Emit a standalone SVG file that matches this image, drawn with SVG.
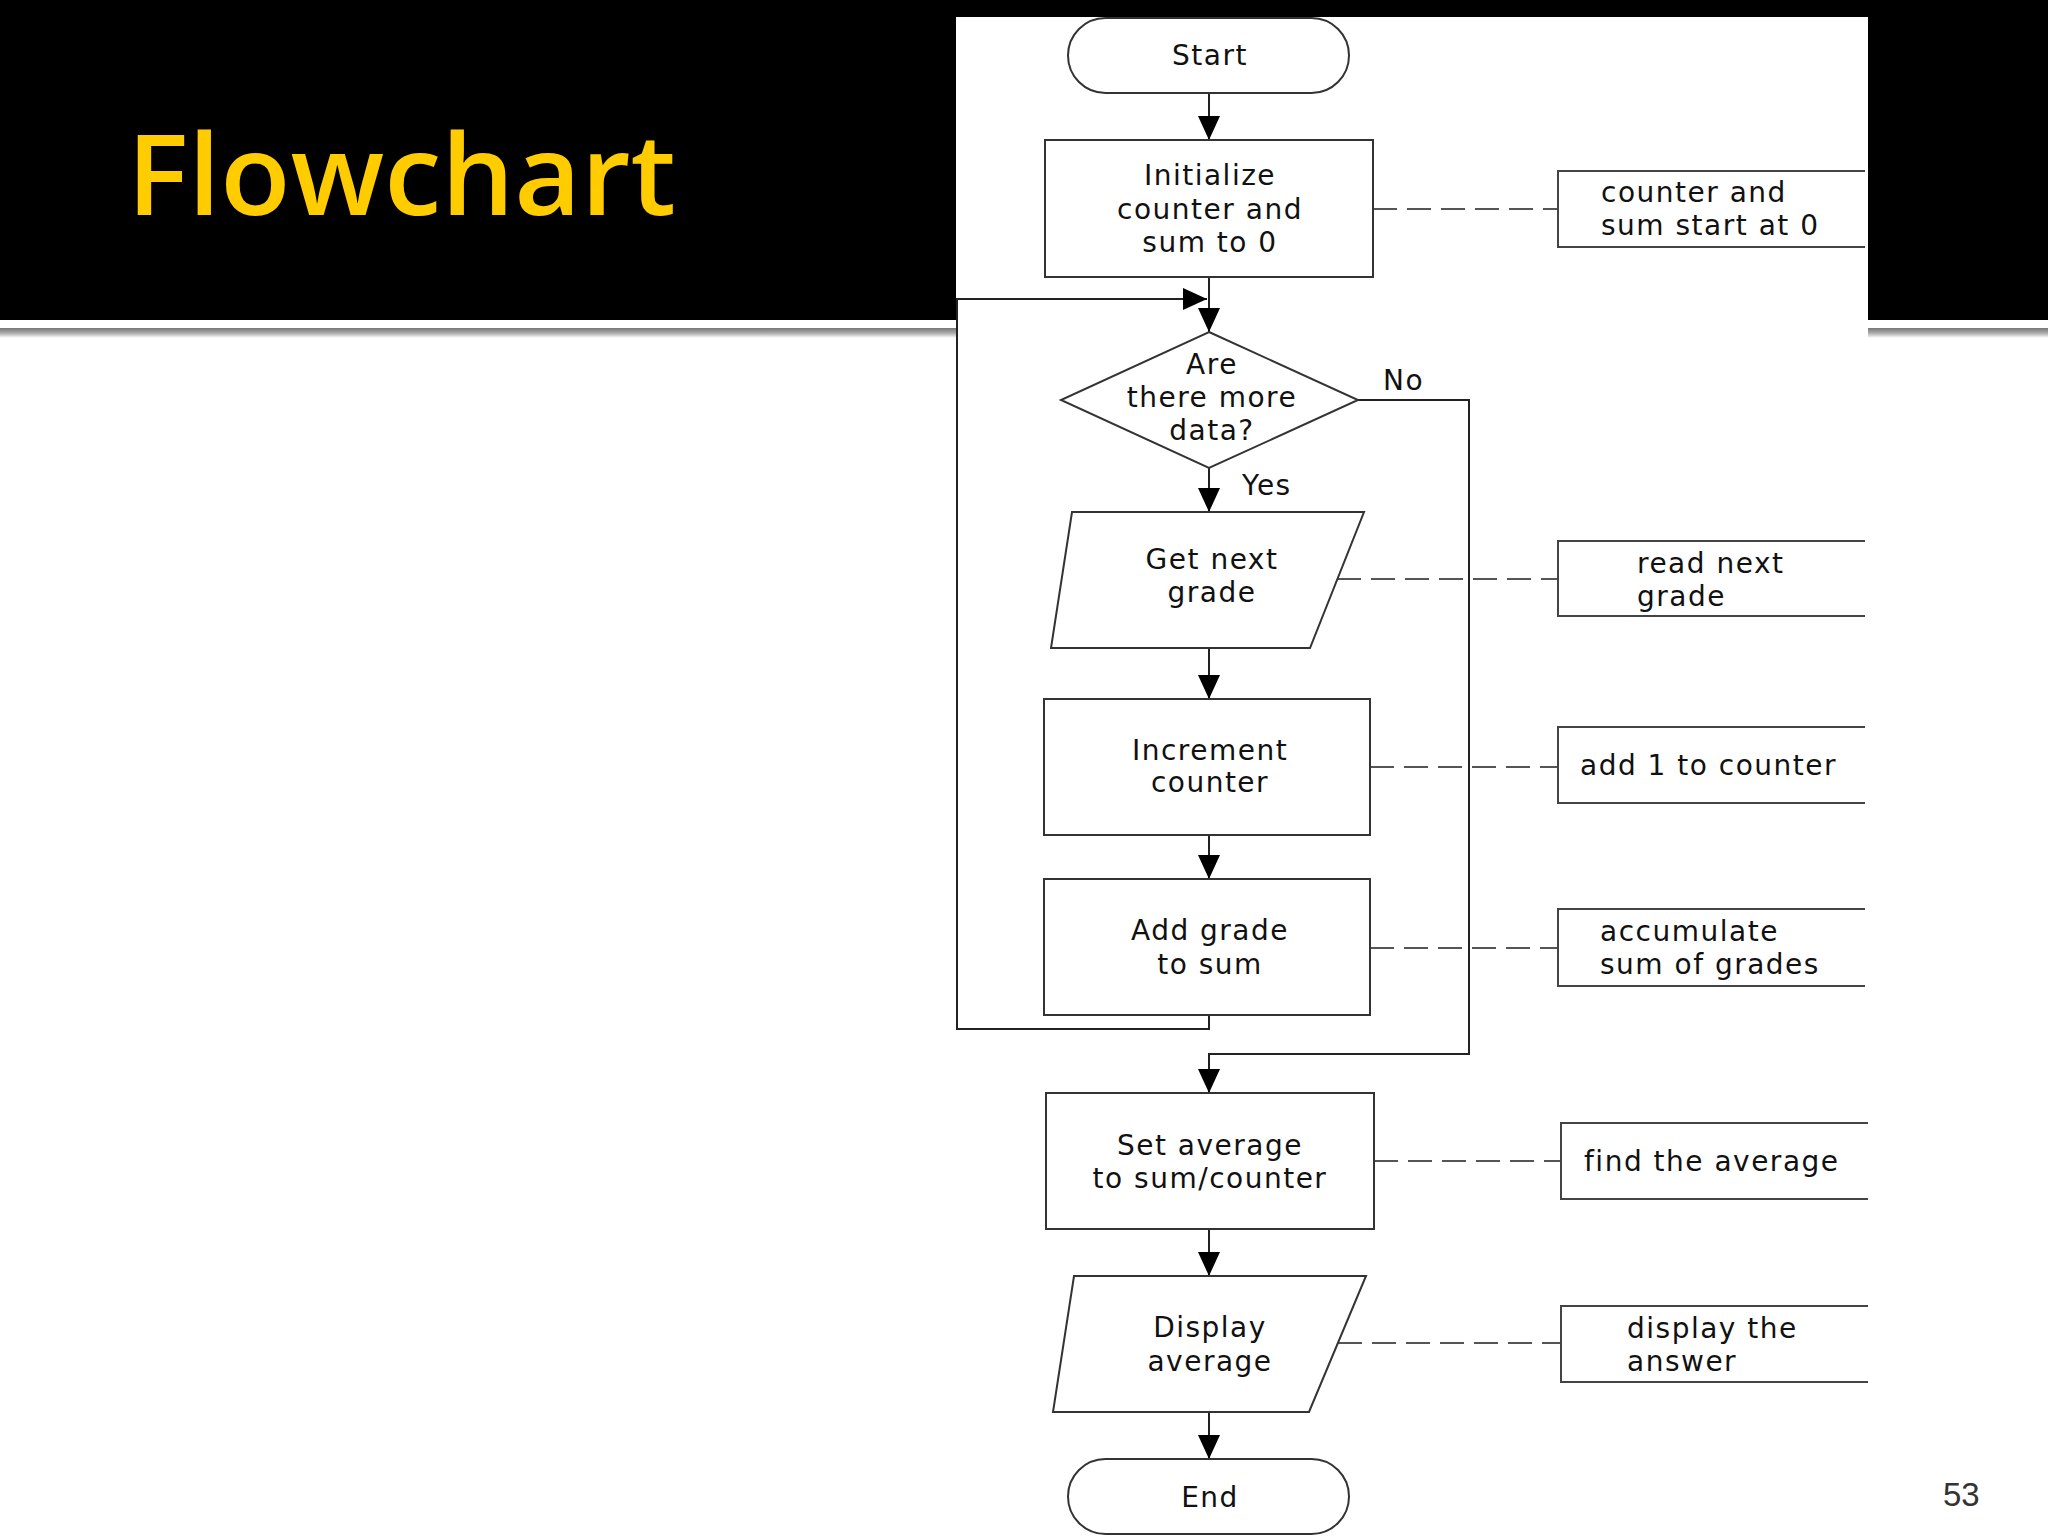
<svg xmlns="http://www.w3.org/2000/svg" width="2048" height="1536" viewBox="0 0 2048 1536">
<defs>
<marker id="ah" markerWidth="24" markerHeight="22" refX="24" refY="11" orient="auto" markerUnits="userSpaceOnUse">
<path d="M0,0 L24,11 L0,22 Z" fill="#000"/>
</marker>
<linearGradient id="shadow" x1="0" y1="0" x2="0" y2="1">
<stop offset="0" stop-color="#777"/>
<stop offset="0.5" stop-color="#aaa"/>
<stop offset="1" stop-color="#fff"/>
</linearGradient>
</defs>
<style>
.shape{fill:#fff;stroke:#333;stroke-width:2}
.note{fill:none;stroke:#444;stroke-width:2}
.t{font-family:"DejaVu Sans",sans-serif;font-size:28px;fill:#111;letter-spacing:1.5px}
.c{text-anchor:middle}
.flow{fill:none;stroke:#222;stroke-width:2}
.dash{fill:none;stroke:#555;stroke-width:2;stroke-dasharray:24 10}
</style>
<rect x="0" y="0" width="2048" height="1536" fill="#fff"/>
<rect x="0" y="0" width="2048" height="320" fill="#000"/>
<rect x="0" y="328" width="956" height="10" fill="url(#shadow)"/>
<rect x="1868" y="328" width="180" height="10" fill="url(#shadow)"/>
<rect x="956" y="17" width="912" height="1519" fill="#fff"/>
<text x="127" y="215" font-family="Open Sans, Liberation Sans, sans-serif" font-size="113" font-weight="600" fill="#FFCC00" textLength="549" lengthAdjust="spacingAndGlyphs">Flowchart</text>
<text x="1943" y="1506" font-family="Liberation Sans, Arial, sans-serif" font-size="33" fill="#333">53</text>

<g id="connectors">
<line class="flow" x1="1209" y1="93" x2="1209" y2="140" marker-end="url(#ah)"/>
<line class="flow" x1="1209" y1="277" x2="1209" y2="332" marker-end="url(#ah)"/>
<line class="flow" x1="1209" y1="468" x2="1209" y2="512" marker-end="url(#ah)"/>
<line class="flow" x1="1209" y1="648" x2="1209" y2="699" marker-end="url(#ah)"/>
<line class="flow" x1="1209" y1="835" x2="1209" y2="879" marker-end="url(#ah)"/>
<polyline class="flow" points="1209,1015 1209,1029 957,1029 957,299 1207,299" marker-end="url(#ah)"/>
<polyline class="flow" points="1358,400 1469,400 1469,1054 1209,1054 1209,1093" marker-end="url(#ah)"/>
<line class="flow" x1="1209" y1="1229" x2="1209" y2="1276" marker-end="url(#ah)"/>
<line class="flow" x1="1209" y1="1412" x2="1209" y2="1459" marker-end="url(#ah)"/>
<line class="dash" x1="1373" y1="209" x2="1558" y2="209"/>
<line class="dash" x1="1337" y1="579" x2="1558" y2="579"/>
<line class="dash" x1="1370" y1="767" x2="1558" y2="767"/>
<line class="dash" x1="1370" y1="948" x2="1558" y2="948"/>
<line class="dash" x1="1374" y1="1161" x2="1561" y2="1161"/>
<line class="dash" x1="1338" y1="1343" x2="1561" y2="1343"/>
<text class="t" x="1383" y="390">No</text>
<text class="t" x="1242" y="495">Yes</text>
</g>

<g id="start">
<rect class="shape" x="1068" y="18" width="281" height="75" rx="37.5"/>
<text class="t c" x="1210" y="65">Start</text>
</g>
<g id="init">
<rect class="shape" x="1045" y="140" width="328" height="137"/>
<text class="t c" x="1210" y="185">Initialize</text>
<text class="t c" x="1210" y="219">counter and</text>
<text class="t c" x="1210" y="252">sum to 0</text>
</g>
<g id="note-init">
<path class="note" d="M1865,171 H1558 V247 H1865"/>
<text class="t" x="1601" y="202">counter and</text>
<text class="t" x="1601" y="235">sum start at 0</text>
</g>
<g id="decision">
<polygon class="shape" points="1209,332 1358,400 1209,468 1061,400"/>
<text class="t c" x="1212" y="374">Are</text>
<text class="t c" x="1212" y="407">there more</text>
<text class="t c" x="1212" y="440">data?</text>
</g>
<g id="get-grade">
<polygon class="shape" points="1072,512 1364,512 1310,648 1051,648"/>
<text class="t c" x="1212" y="569">Get next</text>
<text class="t c" x="1212" y="602">grade</text>
</g>
<g id="note-read">
<path class="note" d="M1865,541 H1558 V616 H1865"/>
<text class="t" x="1637" y="573">read next</text>
<text class="t" x="1637" y="606">grade</text>
</g>
<g id="increment">
<rect class="shape" x="1044" y="699" width="326" height="136"/>
<text class="t c" x="1210" y="760">Increment</text>
<text class="t c" x="1210" y="792">counter</text>
</g>
<g id="note-add1">
<path class="note" d="M1865,727 H1558 V803 H1865"/>
<text class="t" x="1580" y="775">add 1 to counter</text>
</g>
<g id="add-grade">
<rect class="shape" x="1044" y="879" width="326" height="136"/>
<text class="t c" x="1210" y="940">Add grade</text>
<text class="t c" x="1210" y="974">to sum</text>
</g>
<g id="note-acc">
<path class="note" d="M1865,909 H1558 V986 H1865"/>
<text class="t" x="1600" y="941">accumulate</text>
<text class="t" x="1600" y="974">sum of grades</text>
</g>
<g id="set-average">
<rect class="shape" x="1046" y="1093" width="328" height="136"/>
<text class="t c" x="1210" y="1155">Set average</text>
<text class="t c" x="1210" y="1188">to sum/counter</text>
</g>
<g id="note-avg">
<path class="note" d="M1868,1123 H1561 V1199 H1868"/>
<text class="t" x="1584" y="1171">find the average</text>
</g>
<g id="display">
<polygon class="shape" points="1074,1276 1366,1276 1309,1412 1053,1412"/>
<text class="t c" x="1210" y="1337">Display</text>
<text class="t c" x="1210" y="1371">average</text>
</g>
<g id="note-display">
<path class="note" d="M1868,1306 H1561 V1382 H1868"/>
<text class="t" x="1627" y="1338">display the</text>
<text class="t" x="1627" y="1371">answer</text>
</g>
<g id="end">
<rect class="shape" x="1068" y="1459" width="281" height="75" rx="37.5"/>
<text class="t c" x="1210" y="1507">End</text>
</g>
</svg>
